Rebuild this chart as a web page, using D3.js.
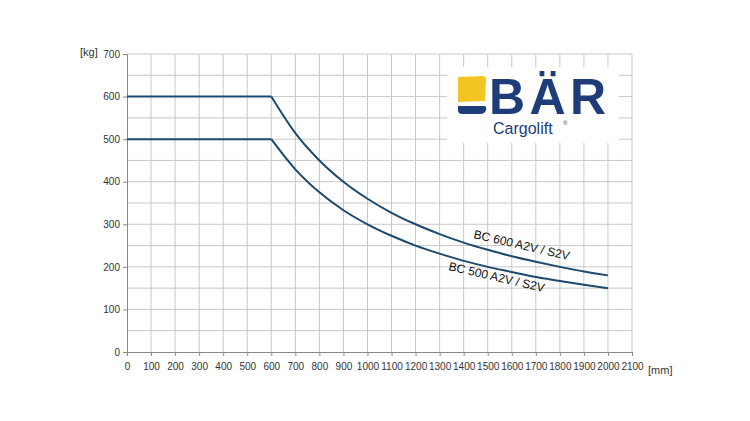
<!DOCTYPE html><html><head><meta charset="utf-8"><script src="https://cdn.jsdelivr.net/npm/d3@7"></script>
<style>body{margin:0;background:#fff}text{font-family:"Liberation Sans",Arial,sans-serif}</style></head><body><svg id="c" width="750" height="421"></svg>
<script>
const xs=[0,100,200,300,400,500,600,700,800,900,1000,1100,1200,1300,1400,1500,1600,1700,1800,1900,2000];
const bc600=[600,600,600,600,600,600,600,514,450,400,360,327,300,277,257,240,225,212,200,189,180];
const bc500=[500,500,500,500,500,500,500,429,375,333,300,273,250,231,214,200,188,176,167,158,150];
const xTicks=d3.range(0,2101,100);
const yTicks=d3.range(0,701,100);
const svg=d3.select("#c");
const x=d3.scaleLinear().domain([0,2100]).range([127,632]);
const y=d3.scaleLinear().domain([0,700]).range([352,54]);
const g=svg.append("g");
g.selectAll(".vx").data(xTicks.slice(1)).join("line").attr("x1",d=>x(d)).attr("x2",d=>x(d)).attr("y1",y(0)).attr("y2",y(700)).attr("stroke","#c8c8c8");
g.selectAll(".hy").data(d3.range(50,701,50)).join("line").attr("x1",x(0)).attr("x2",x(2100)).attr("y1",d=>y(d)).attr("y2",d=>y(d)).attr("stroke","#c8c8c8");
const xa=svg.append("g").attr("transform",`translate(0,${y(0)})`).call(d3.axisBottom(x).tickValues(xTicks).tickSize(4).tickFormat(d3.format("d")));
const ya=svg.append("g").attr("transform",`translate(${x(0)},0)`).call(d3.axisLeft(y).tickValues(yTicks).tickSize(4));
[xa,ya].forEach(a=>{a.selectAll("path,line").attr("stroke","#888");a.selectAll("text").attr("fill","#333").style("font-size","10px");});
xa.selectAll("text").attr("dy","1.1em");
svg.append("text").attr("x",80).attr("y",56).text("[kg]").style("font-size","11px").attr("fill","#333");
svg.append("text").attr("x",648).attr("y",374).text("[mm]").style("font-size","11px").attr("fill","#333");
const flat=d3.line().x((d,i)=>x(xs[i])).y(d=>y(d));
const curve=d3.line().x((d,i)=>x(xs[i+6])).y(d=>y(d)).curve(d3.curveMonotoneX);
[bc600,bc500].forEach(s=>{
  svg.append("path").attr("d",flat(s.slice(0,7))).attr("fill","none").attr("stroke","#1c4a6e").attr("stroke-width",2);
  svg.append("path").attr("d",curve(s.slice(6))).attr("fill","none").attr("stroke","#1c4a6e").attr("stroke-width",2);
});
svg.append("text").attr("transform","translate(473,238) rotate(13)").text("BC 600 A2V / S2V").style("font-size","12px").attr("fill","#111");
svg.append("text").attr("transform","translate(448,270) rotate(13)").text("BC 500 A2V / S2V").style("font-size","12px").attr("fill","#111");
const L=svg.append("g");
L.append("rect").attr("x",447).attr("y",67).attr("width",172).attr("height",76).attr("fill","#fff");
L.append("path").attr("d","M458,77 L483,76 Q486,76 486,79 L485,101 L458,102 Z").attr("fill","#f2c523");
L.append("path").attr("d","M458,106 L484,106 Q487,106 486,110 Q485,114 480,114 L462,114 Q458,114 458,110 Z").attr("fill","#1d3c78");
L.append("text").attr("x",489).attr("y",114).attr("textLength",117).text("BÄR").style("font-size","50px").style("font-weight","bold").attr("fill","#1d3c78");
L.append("text").attr("x",493).attr("y",134).text("Cargolift").style("font-size","16px").attr("fill","#1d3c78");
L.append("text").attr("x",563).attr("y",125).text("®").style("font-size","6px").attr("fill","#1d3c78");
</script></body></html>
